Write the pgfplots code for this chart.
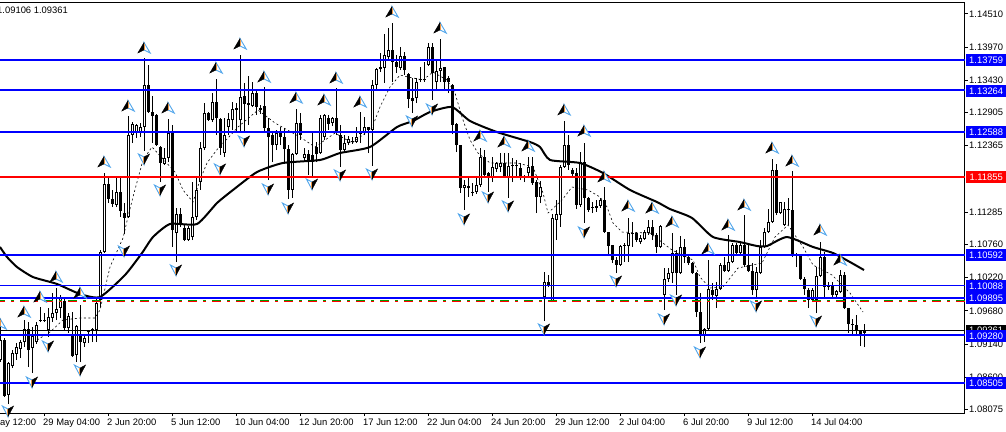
\documentclass[border=0pt]{standalone}
\usepackage{fontspec}
\setmainfont{Liberation Sans}
\usepackage{pgfplots}
\usepackage{pgfplotstable}
\pgfplotsset{compat=1.18}
\definecolor{mtblue}{RGB}{0,0,255}
\definecolor{mtred}{RGB}{255,0,0}
\definecolor{mtgreen}{RGB}{0,128,0}
\definecolor{arrowedge}{RGB}{80,165,235}
\definecolor{arrowin}{RGB}{235,150,70}
\pgfdeclareplotmark{fup}{%
  \pgfsetlinewidth{0.9pt}%
  \pgfsetfillcolor{white}\pgfsetstrokecolor{arrowedge}%
  \pgfpathmoveto{\pgfpoint{0pt}{6.5pt}}\pgfpathlineto{\pgfpoint{6.2pt}{-4pt}}\pgfpathlineto{\pgfpoint{0pt}{-1pt}}\pgfpathclose
  \pgfusepath{fill,stroke}%
  \pgfsetfillcolor{black}\pgfsetstrokecolor{black}\pgfsetlinewidth{0.4pt}%
  \pgfpathmoveto{\pgfpoint{0pt}{6.5pt}}\pgfpathlineto{\pgfpoint{-6.2pt}{-4pt}}\pgfpathlineto{\pgfpoint{0pt}{-1pt}}\pgfpathclose
  \pgfusepath{fill,stroke}%
  \pgfsetstrokecolor{arrowin}\pgfsetlinewidth{0.7pt}%
  \pgfpathmoveto{\pgfpoint{0.4pt}{5pt}}\pgfpathlineto{\pgfpoint{0.4pt}{-1pt}}\pgfusepath{stroke}%
}
\pgfdeclareplotmark{fdown}{%
  \pgfsetlinewidth{0.9pt}%
  \pgfsetfillcolor{white}\pgfsetstrokecolor{arrowedge}%
  \pgfpathmoveto{\pgfpoint{0pt}{-6.5pt}}\pgfpathlineto{\pgfpoint{-5.6pt}{4pt}}\pgfpathlineto{\pgfpoint{0pt}{1pt}}\pgfpathclose
  \pgfusepath{fill,stroke}%
  \pgfsetfillcolor{black}\pgfsetstrokecolor{black}\pgfsetlinewidth{0.4pt}%
  \pgfpathmoveto{\pgfpoint{0pt}{-6.5pt}}\pgfpathlineto{\pgfpoint{5.6pt}{4pt}}\pgfpathlineto{\pgfpoint{0pt}{1pt}}\pgfpathclose
  \pgfusepath{fill,stroke}%
  \pgfsetstrokecolor{arrowin}\pgfsetlinewidth{0.7pt}%
  \pgfpathmoveto{\pgfpoint{-0.4pt}{-5pt}}\pgfpathlineto{\pgfpoint{-0.4pt}{1pt}}\pgfusepath{stroke}%
}
% x H T B L : high, body top, body bottom, low
\pgfplotstableread{
x H T B L
0 1.09449 1.09205 1.08880 1.08847
8 1.08847 1.08831 1.08311 1.08164
12 1.09042 1.08993 1.08782 1.08749
16 1.09156 1.09091 1.08977 1.08880
20 1.09205 1.09172 1.09058 1.08912
24 1.09530 1.09384 1.09172 1.09091
32 1.09416 1.09270 1.09074 1.08668
36 1.09497 1.09449 1.09172 1.09140
44 1.09644 1.09530 1.09514 1.09497
48 1.09726 1.09579 1.09368 1.09254
52 1.09969 1.09644 1.09563 1.09497
56 1.10051 1.09709 1.09644 1.09530
60 1.09937 1.09888 1.09726 1.09563
68 1.09644 1.09595 1.09400 1.09319
76 1.09449 1.09432 1.08961 1.08847
84 1.09287 1.09238 1.09156 1.09091
92 1.09400 1.09384 1.09368 1.09172
96 1.09904 1.09807 1.09368 1.09172
100 1.10669 1.10636 1.09856 1.09742
104 1.11921 1.11742 1.10636 1.10620
116 1.11856 1.11612 1.11401 1.11368
128 1.12848 1.12539 1.11206 1.11190
132 1.12750 1.12718 1.12539 1.12409
136 1.12718 1.12702 1.12587 1.12490
140 1.12734 1.12669 1.12587 1.12506
144 1.13792 1.13353 1.12669 1.12279
164 1.12328 1.12165 1.12068 1.12052
168 1.12799 1.12571 1.12165 1.12100
176 1.11352 1.11254 1.10945 1.10473
188 1.11059 1.11027 1.10831 1.10815
192 1.11774 1.11206 1.10880 1.10831
196 1.11856 1.11645 1.11206 1.11157
200 1.12425 1.12328 1.11774 1.11645
204 1.13059 1.12897 1.12328 1.12295
212 1.13222 1.13075 1.12783 1.12750
224 1.12815 1.12539 1.12246 1.12181
228 1.12897 1.12799 1.12669 1.12539
232 1.13075 1.12962 1.12783 1.12620
236 1.13059 1.12978 1.12946 1.12587
240 1.13841 1.13157 1.12783 1.12587
252 1.13401 1.13222 1.13010 1.12994
260 1.13027 1.12978 1.12946 1.12881
276 1.12620 1.12571 1.12376 1.12295
292 1.12246 1.12230 1.11645 1.11515
296 1.12962 1.12734 1.12230 1.12214
304 1.12328 1.12230 1.12165 1.12133
320 1.12865 1.12815 1.12246 1.12230
324 1.12881 1.12865 1.12506 1.12458
332 1.12832 1.12815 1.12734 1.12685
344 1.12539 1.12409 1.12295 1.12262
348 1.12523 1.12474 1.12409 1.12376
356 1.12669 1.12506 1.12425 1.12409
360 1.12913 1.12571 1.12555 1.12409
364 1.12832 1.12669 1.12571 1.12539
372 1.13434 1.13353 1.12620 1.12035
376 1.13629 1.13612 1.13353 1.13271
380 1.13873 1.13645 1.13612 1.13563
384 1.14182 1.13841 1.13629 1.13385
388 1.14279 1.13922 1.13808 1.13759
400 1.13970 1.13824 1.13629 1.13596
416 1.13466 1.13401 1.13141 1.13059
420 1.13645 1.13450 1.13434 1.13401
424 1.13726 1.13450 1.13434 1.13401
428 1.14035 1.13970 1.13678 1.13661
436 1.13759 1.13580 1.13401 1.13271
440 1.14100 1.13629 1.13580 1.13401
464 1.11807 1.11726 1.11677 1.11319
472 1.11758 1.11612 1.11596 1.11547
476 1.11856 1.11726 1.11612 1.11580
480 1.12328 1.12181 1.11726 1.11693
492 1.12181 1.12019 1.11840 1.11774
496 1.12100 1.12084 1.11986 1.11937
500 1.12246 1.12084 1.12019 1.11937
508 1.12246 1.12035 1.11856 1.11515
512 1.12165 1.12052 1.12035 1.11774
528 1.12181 1.12019 1.11921 1.11856
540 1.11791 1.11693 1.11531 1.11433
544 1.10310 1.10148 1.09904 1.09514
552 1.11254 1.11190 1.09823 1.09823
556 1.11482 1.11254 1.11157 1.10831
560 1.12052 1.12019 1.11238 1.11043
564 1.12767 1.12376 1.12019 1.12003
580 1.12262 1.12100 1.11401 1.11368
596 1.11482 1.11384 1.11352 1.11287
600 1.11515 1.11482 1.11384 1.11352
620 1.10750 1.10734 1.10425 1.10408
624 1.10782 1.10750 1.10734 1.10473
628 1.11190 1.10945 1.10734 1.10473
640 1.10913 1.10864 1.10798 1.10766
644 1.10994 1.10961 1.10847 1.10831
648 1.11157 1.11043 1.10945 1.10913
660 1.11076 1.11059 1.10718 1.10701
664 1.10376 1.10197 1.09937 1.09693
668 1.10376 1.10294 1.10197 1.10148
672 1.10945 1.10620 1.10294 1.10132
680 1.10896 1.10718 1.10294 1.10278
704 1.09400 1.09384 1.09287 1.09172
708 1.10506 1.10034 1.09384 1.09368
716 1.10148 1.10034 1.09920 1.09726
720 1.10457 1.10425 1.10034 1.10018
728 1.10913 1.10473 1.10327 1.10310
732 1.10782 1.10750 1.10473 1.10457
740 1.10782 1.10750 1.10620 1.10604
756 1.10392 1.10310 1.10018 1.09904
760 1.10831 1.10718 1.10294 1.10278
764 1.11027 1.10961 1.10718 1.10701
768 1.11335 1.11124 1.10961 1.10945
772 1.12149 1.11970 1.11124 1.11108
780 1.11449 1.11449 1.11270 1.11254
784 1.11449 1.11335 1.11076 1.11059
812 1.10051 1.10018 1.09856 1.09823
816 1.10392 1.10246 1.09856 1.09644
820 1.10798 1.10555 1.10246 1.10229
828 1.10148 1.10083 1.10067 1.10018
836 1.10018 1.10002 1.09937 1.09904
840 1.10343 1.10262 1.09985 1.09969
864 1.09465 1.09352 1.09319 1.09091
}\upbars
\pgfplotstableread{
x H T B L
4 1.09238 1.09205 1.08295 1.08278
28 1.09497 1.09384 1.09042 1.08766
40 1.09742 1.09530 1.09514 1.09497
64 1.09888 1.09840 1.09400 1.09368
72 1.09660 1.09287 1.08945 1.08928
80 1.09775 1.09287 1.09172 1.08847
88 1.09368 1.09352 1.09335 1.09156
108 1.11856 1.11742 1.11498 1.11433
112 1.11645 1.11498 1.11417 1.11368
120 1.11856 1.11612 1.11303 1.11206
124 1.11433 1.11270 1.11190 1.10929
148 1.13678 1.13353 1.12913 1.12897
152 1.13173 1.12913 1.12848 1.12409
156 1.12881 1.12865 1.12376 1.12360
160 1.12360 1.12344 1.12084 1.11774
172 1.12702 1.12571 1.10994 1.10718
180 1.11352 1.11254 1.11076 1.11043
184 1.11076 1.11027 1.10831 1.10815
208 1.12913 1.12897 1.12783 1.12767
216 1.13450 1.13075 1.12815 1.12539
220 1.12815 1.12799 1.12328 1.12214
244 1.13385 1.13173 1.13043 1.12604
248 1.13498 1.13059 1.13027 1.12702
256 1.13271 1.13222 1.12994 1.12865
264 1.13320 1.13010 1.12653 1.12571
268 1.12815 1.12653 1.12506 1.11807
272 1.12571 1.12539 1.12376 1.12100
280 1.12669 1.12571 1.12506 1.12376
284 1.12653 1.12506 1.12311 1.12100
288 1.12376 1.12311 1.11645 1.11498
300 1.12897 1.12734 1.12539 1.12458
308 1.12295 1.12230 1.12100 1.11889
312 1.12571 1.12214 1.12100 1.11856
316 1.12425 1.12344 1.12230 1.12100
328 1.12865 1.12815 1.12718 1.12620
336 1.13303 1.12815 1.12571 1.12539
340 1.12702 1.12539 1.12295 1.12019
352 1.12506 1.12442 1.12425 1.12393
368 1.12669 1.12669 1.12620 1.12246
392 1.14361 1.13922 1.13726 1.13401
396 1.13841 1.13726 1.13645 1.13547
404 1.13889 1.13824 1.13596 1.13515
408 1.13547 1.13531 1.13125 1.12978
412 1.13466 1.13141 1.13092 1.12897
432 1.14035 1.13970 1.13547 1.13108
444 1.13645 1.13645 1.13401 1.13271
448 1.13498 1.13466 1.13401 1.13222
452 1.13369 1.13353 1.12702 1.12555
456 1.12734 1.12718 1.12376 1.12262
460 1.12376 1.12376 1.11677 1.11596
468 1.11840 1.11710 1.11677 1.11531
484 1.12295 1.12181 1.11889 1.11856
488 1.11937 1.11921 1.11840 1.11612
504 1.12246 1.12084 1.11856 1.11840
516 1.12133 1.12052 1.12035 1.11873
520 1.12084 1.12003 1.11856 1.11807
524 1.11889 1.11873 1.11856 1.11774
532 1.12181 1.12035 1.11758 1.11726
536 1.11807 1.11774 1.11531 1.11270
548 1.10262 1.10148 1.10083 1.10067
568 1.12539 1.12376 1.12052 1.11970
572 1.12003 1.11970 1.11905 1.11840
576 1.12003 1.11921 1.11401 1.11335
584 1.12409 1.12100 1.11515 1.11108
588 1.11531 1.11515 1.11319 1.11287
592 1.11449 1.11368 1.11352 1.11270
604 1.11693 1.11482 1.10961 1.10945
608 1.10961 1.10961 1.10734 1.10587
612 1.10750 1.10750 1.10506 1.10457
616 1.10555 1.10506 1.10425 1.10294
632 1.11124 1.10945 1.10929 1.10718
636 1.10961 1.10945 1.10831 1.10798
652 1.11157 1.11043 1.10913 1.10831
656 1.10945 1.10913 1.10718 1.10620
676 1.10669 1.10620 1.10294 1.09937
684 1.10847 1.10718 1.10555 1.10457
688 1.10587 1.10555 1.10457 1.10425
692 1.10473 1.10457 1.10294 1.10278
696 1.10310 1.10294 1.09660 1.09579
700 1.09969 1.09660 1.09287 1.09156
712 1.10132 1.10018 1.09937 1.09856
724 1.10555 1.10425 1.10327 1.10310
736 1.10782 1.10750 1.10620 1.10587
744 1.11238 1.10750 1.10425 1.10392
748 1.10750 1.10425 1.10327 1.10310
752 1.10457 1.10327 1.10018 1.09937
776 1.12068 1.11970 1.11270 1.11238
788 1.11515 1.11335 1.11319 1.11076
792 1.11954 1.11319 1.10604 1.10555
796 1.10620 1.10604 1.10587 1.10392
800 1.10604 1.10587 1.10197 1.10181
804 1.10229 1.10197 1.10034 1.09937
808 1.10051 1.10018 1.09856 1.09726
824 1.10636 1.10555 1.10067 1.09904
832 1.10148 1.10100 1.09937 1.09904
844 1.10310 1.10262 1.09726 1.09709
848 1.09726 1.09726 1.09465 1.09319
852 1.09546 1.09465 1.09449 1.09287
856 1.09612 1.09449 1.09352 1.09287
860 1.09368 1.09352 1.09287 1.09107
}\downbars
\pgfplotstableread{
x y
0 1.09449
24 1.09644
40 1.09888
56 1.10213
80 1.09953
104 1.12084
128 1.12994
144 1.13938
168 1.12962
216 1.13612
240 1.14003
264 1.13466
296 1.13125
324 1.13092
336 1.13450
360 1.13059
392 1.14523
440 1.14263
480 1.12506
504 1.12409
528 1.12344
564 1.12930
584 1.12587
604 1.11840
628 1.11368
652 1.11335
672 1.11108
708 1.10669
728 1.11059
744 1.11384
772 1.12311
792 1.12100
820 1.10978
840 1.10490
}\upmarks
\pgfplotstableread{
x y
8 1.08066
32 1.08538
48 1.09124
80 1.08733
124 1.10669
144 1.12165
160 1.11661
176 1.10360
220 1.12003
244 1.12458
268 1.11677
288 1.11368
312 1.11758
340 1.11905
372 1.11921
412 1.12783
432 1.12978
464 1.11190
488 1.11547
508 1.11401
544 1.09400
584 1.10978
616 1.10181
664 1.09563
676 1.09872
700 1.09026
756 1.09775
816 1.09530
}\downmarks
\pgfplotstableread{
x y
37 1.09205
50 1.09335
63 1.09530
80 1.09563
95 1.09563
100 1.09693
110 1.10392
123 1.10864
128 1.11206
133 1.11531
143 1.12133
152 1.12344
175 1.11937
183 1.11645
193 1.11449
200 1.11807
207 1.12084
219 1.12344
228 1.12490
238 1.12669
258 1.12946
275 1.12734
300 1.12506
315 1.12344
335 1.12571
352 1.12409
372 1.12653
380 1.12994
390 1.13320
400 1.13515
408 1.13482
423 1.13434
433 1.13563
447 1.13434
455 1.13222
462 1.12832
470 1.12458
478 1.12246
490 1.12084
517 1.12084
533 1.12019
543 1.11596
548 1.11270
562 1.11482
572 1.11693
588 1.11645
600 1.11531
607 1.11368
613 1.11108
622 1.10961
650 1.10945
672 1.10669
693 1.10506
700 1.10229
710 1.10051
723 1.10067
738 1.10376
762 1.10457
767 1.10620
775 1.10880
788 1.11076
803 1.10718
813 1.10425
832 1.10262
850 1.09969
863 1.09660
}\zig
\pgfplotstableread{
x y
0 1.10718
7 1.10555
17 1.10392
33 1.10229
57 1.10116
80 1.09953
100 1.09904
125 1.10262
142 1.10620
153 1.10880
170 1.11092
197 1.11092
217 1.11433
233 1.11645
257 1.11937
283 1.12084
320 1.12133
340 1.12246
370 1.12344
397 1.12669
413 1.12767
430 1.12913
452 1.12994
470 1.12767
497 1.12587
530 1.12425
540 1.12344
550 1.12133
580 1.12084
603 1.11921
630 1.11645
657 1.11449
670 1.11335
692 1.11190
713 1.10880
740 1.10798
757 1.10734
767 1.10734
787 1.10880
813 1.10718
833 1.10620
850 1.10473
864 1.10343
}\ma
\newcommand{\hl}[3]{\addplot[forget plot,#1,line width=#2] coordinates {(0,#3) (964.5,#3)};}
\newcommand{\pricebox}[3]{\node[fill=#1,text=white,inner sep=0pt,minimum width=40pt,minimum height=11.5pt,anchor=west] at (966pt,{431-#2}) {#3};}
\begin{document}
\begin{tikzpicture}[x=1pt,y=1pt,font=\fontsize{9.4}{10}\selectfont]
\begin{axis}[
  at={(0pt,18pt)},anchor=south west,
  scale only axis,width=964.5pt,height=410.5pt,
  xmin=0,xmax=964.5,ymin=1.08018,ymax=1.14694,
  clip=false,
  axis x line*=bottom,axis y line*=right,
  axis line style={black,line width=1pt},
  tick style={black,line width=1pt},
  major tick length=3pt,tick align=outside,
  xtick={44,108,172,236,300,364,428,492,556,620,684,748,812},
  xticklabels={29 May 04:00,2 Jun 20:00,5 Jun 12:00,10 Jun 04:00,12 Jun 20:00,17 Jun 12:00,22 Jun 04:00,24 Jun 20:00,29 Jun 12:00,2 Jul 04:00,6 Jul 20:00,9 Jul 12:00,14 Jul 04:00},
  ytick={1.14510,1.13970,1.13430,1.12905,1.12365,1.11285,1.10760,1.10220,1.09680,1.09140,1.08600,1.08075},
  yticklabels={1.14510,1.13970,1.13430,1.12905,1.12365,1.11285,1.10760,1.10220,1.09680,1.09140,1.08600,1.08075},
  y tick label style={anchor=west,inner sep=0pt,xshift=1.5pt},
  x tick label style={anchor=north west,inner sep=0pt,xshift=-1pt,yshift=-2.5pt},
  error bars/error mark=none,
]
% wicks
\addplot[forget plot,draw=none,mark=none,error bars/.cd,y dir=plus,y explicit,error bar style={black,line width=1pt}]
  table[x=x,y=L,y error plus expr=\thisrow{H}-\thisrow{L}] {\upbars};
\addplot[forget plot,draw=none,mark=none,error bars/.cd,y dir=plus,y explicit,error bar style={black,line width=1pt}]
  table[x=x,y=L,y error plus expr=\thisrow{H}-\thisrow{L}] {\downbars};
% bodies
\addplot[forget plot,draw=none,mark=none,error bars/.cd,y dir=plus,y explicit,error bar style={black,line width=3pt}]
  table[x=x,y=B,y error plus expr=\thisrow{T}-\thisrow{B}] {\downbars};
\addplot[forget plot,draw=none,mark=none,error bars/.cd,y dir=plus,y explicit,error bar style={black,line width=3pt}]
  table[x=x,y=B,y error plus expr=\thisrow{T}-\thisrow{B}] {\upbars};
\addplot[forget plot,draw=none,mark=none,error bars/.cd,y dir=plus,y explicit,error bar style={white,line width=1pt}]
  table[x=x,y expr=\thisrow{B}+0.00016,y error plus expr={max(\thisrow{T}-\thisrow{B}-0.00033,0)}] {\upbars};
% thin dashed line
\addplot[forget plot,black,line width=0.6pt,dash pattern=on 2pt off 2.5pt] table[x=x,y=y] {\zig};
% moving average
\addplot[forget plot,black,line width=2pt,line join=round,smooth,tension=0.35] table[x=x,y=y] {\ma};
% arrows
\addplot[forget plot,only marks,mark=fup] table[x=x,y=y] {\upmarks};
\addplot[forget plot,only marks,mark=fdown] table[x=x,y=y] {\downmarks};
% horizontal lines
\hl{black}{1pt}{1.09361}
\addplot[forget plot,mtred,line width=1pt,dash pattern=on 9pt off 6pt on 3pt off 6pt,dash phase=4pt] coordinates {(0,1.09832) (964.5,1.09832)};
\addplot[forget plot,green!60!black,line width=1pt,dash pattern=on 9pt off 6pt on 3pt off 6pt,dash phase=4pt] coordinates {(0,1.09848) (964.5,1.09848)};
\hl{mtblue}{2pt}{1.13759}
\hl{mtblue}{2pt}{1.13264}
\hl{mtblue}{2pt}{1.12588}
\hl{mtred}{2pt}{1.11855}
\hl{mtblue}{2pt}{1.10592}
\hl{mtblue}{1pt}{1.10088}
\hl{mtblue}{2pt}{1.09895}
\hl{mtblue}{2pt}{1.09280}
\hl{mtblue}{2pt}{1.08505}
\end{axis}
\draw[black,line width=1pt] (0,428.5) -- (965,428.5);
\node[anchor=east,inner sep=0pt] at (68,420.3) {1.09106 1.09361};
\node[anchor=north west,inner sep=0pt] at (-21,12.5) {26 May 12:00};
\pricebox{mtblue}{60}{1.13759}
\pricebox{mtblue}{91}{1.13264}
\pricebox{mtblue}{132}{1.12588}
\pricebox{mtred}{177}{1.11855}
\pricebox{mtblue}{255}{1.10592}
\pricebox{mtblue}{286}{1.10088}
\pricebox{mtblue}{298}{1.09895}
\pricebox{black}{330.5}{1.09361}
\pricebox{mtblue}{336}{1.09280}
\pricebox{mtblue}{383}{1.08505}
\pgfresetboundingbox
\useasboundingbox (0,0) rectangle (1006pt,431pt);
\end{tikzpicture}
\end{document}
